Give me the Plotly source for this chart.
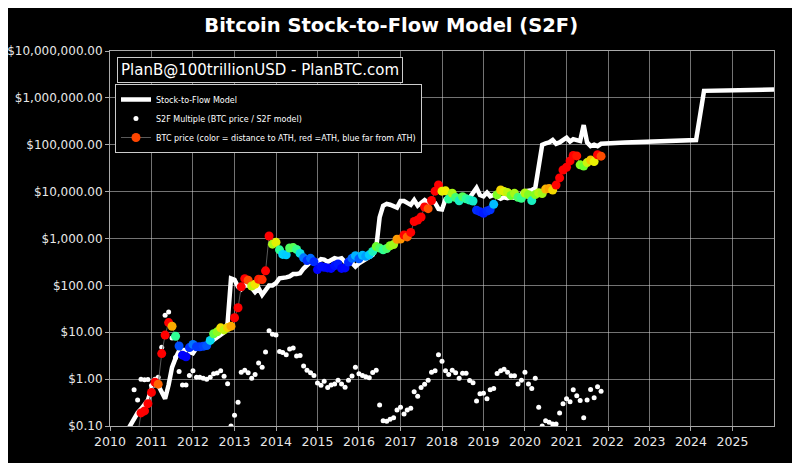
import numpy as np
import pandas as pd
import plotly.graph_objects as go

# ---------------- data ----------------
# BTC monthly price, Aug 2010 .. Nov 2021
price_2010 = [0.06, 0.062, 0.19, 0.21, 0.30]
price_2011 = [0.52, 0.86, 0.78, 3.5, 8.7, 16.1, 13.4, 8.2, 5.1, 3.25, 3.0, 4.7]
price_2012 = [5.5, 4.9, 4.9, 5.0, 5.2, 6.7, 9.3, 10.2, 12.4, 11.2, 12.6, 13.5]
price_2013 = [20.4, 33.4, 93, 139, 129, 97, 106, 135, 133, 204, 1129, 757]
price_2014 = [830, 573, 458, 448, 628, 640, 586, 481, 387, 338, 378, 320]
price_2015 = [217, 254, 244, 236, 230, 263, 285, 230, 236, 314, 377, 430]
price_2016 = [368, 437, 416, 448, 531, 673, 624, 575, 609, 701, 742, 963]
price_2017 = [970, 1190, 1080, 1348, 2300, 2480, 2875, 4703, 4338, 6468, 10233, 13860]
price_2018 = [10221, 10397, 6973, 9240, 7494, 6404, 7780, 7037, 6625, 6318, 4017, 3742]
price_2019 = [3457, 3854, 4105, 5350, 8574, 10817, 10085, 9630, 8293, 9199, 7569, 7193]
price_2020 = [9350, 8599, 6438, 8658, 9461, 9137, 11323, 11680, 10784, 13804, 19625, 29002]
price_2021 = [33114, 45137, 58918, 57750, 37332, 35040, 41626, 47166, 43790, 61318, 57000]

# S2F multiple (BTC price / S2F model), same months
mult_2010 = [0.59, 0.36, 1.0, 0.97, 0.98]
mult_2011 = [0.73, 1.0, 1.1, 4.8, 23, 27, 7.5, 2.9, 1.45, 0.75, 0.75, 1.2]
mult_2012 = [1.5, 1.1, 1.1, 1.05, 1.0, 1.1, 1.3, 1.35, 1.5, 1.15, 0.8, 0.1]
mult_2013 = [0.17, 0.32, 1.4, 1.55, 1.37, 1.05, 1.25, 2.2, 1.8, 3.8, 10.7, 9.1]
mult_2014 = [8.7, 3.9, 3.7, 3.3, 4.4, 4.6, 3.1, 3.2, 1.9, 1.55, 1.37, 1.2]
mult_2015 = [0.83, 0.74, 0.9, 0.66, 0.75, 0.79, 0.95, 0.79, 0.67, 0.95, 1.17, 1.8]
mult_2016 = [1.3, 1.2, 1.12, 1.07, 1.38, 1.55, 0.28, 0.13, 0.126, 0.14, 0.15, 0.22]
mult_2017 = [0.25, 0.18, 0.22, 0.24, 0.54, 0.43, 0.66, 0.78, 0.95, 1.4, 1.5, 3.3]
mult_2018 = [2.4, 1.5, 1.25, 1.55, 1.37, 1.05, 1.33, 1.33, 0.93, 0.84, 0.34, 0.49]
mult_2019 = [0.50, 0.38, 0.59, 0.63, 1.32, 1.5, 1.62, 1.4, 1.18, 1.18, 0.79, 0.95]
mult_2020 = [1.41, 0.79, 0.63, 1.05, 0.25, 0.10, 0.13, 0.12, 0.11, 0.11, 0.19, 0.30]
mult_2021 = [0.38, 0.33, 0.59, 0.44, 0.35, 0.15, 0.36, 0.60, 0.40, 0.69, 0.55]

# Stock-to-Flow model, monthly Jun 2010 .. Nov 2021
model_2010 = [0.079, 0.107, 0.141, 0.19, 0.23, 0.28, 0.355]
model_2011 = [0.63, 0.87, 0.74, 0.50, 0.38, 0.76, 1.78, 2.8, 4.0, 4.2, 4.2, 3.8]
model_2012 = [3.55, 4.6, 4.5, 4.8, 5.4, 6.0, 7.1, 7.6, 8.5, 10, 15.8, 141]
model_2013 = [132, 93, 83, 100, 100, 89, 72, 87, 63, 79, 100, 100]
model_2014 = [112, 141, 141, 148, 155, 174, 174, 182, 229, 275, 316, 347]
model_2015 = [316, 363, 355, 316, 355, 380, 363, 380, 316, 347, 302, 251]
model_2016 = [295, 331, 355, 398, 447, 631, 2818, 5012, 5495, 5248, 4786, 4571]
model_2017 = [6310, 6310, 5754, 5248, 6607, 5012, 5754, 6607, 5754, 6310, 5754, 4266]
model_2018 = [4169, 6918, 7413, 7586, 7244, 7079, 7244, 7079, 7413, 9550, 12023, 8511]
model_2019 = [7943, 9550, 7943, 8511, 7586, 7079, 7586, 7244, 7586, 7413, 7762, 8913]
model_2020 = [10000, 10471, 10715, 12023, 39811, 100000, 107152, 112202, 125893, 104713, 112202, 125893]
model_2021 = [141254, 117490, 131826, 125893, 120226, 263027, 112202, 93325, 100000, 93325, 104713]
# model projection beyond the data
model_future_dates = ["2022-06-01", "2023-06-01", "2024-02-15", "2024-04-25", "2025-01-01", "2026-01-01"]
model_future = [112202, 120226, 125893, 1412538, 1462177, 1513561]

years = list(range(2010, 2026))
year_labels = [str(y) for y in years]
y_tick_vals = [0.1, 1, 10, 100, 1e3, 1e4, 1e5, 1e6, 1e7]
y_tick_text = ["$0.10", "$1.00", "$10.00", "$100.00", "$1,000.00", "$10,000.00",
               "$100,000.00", "$1,000,000.00", "$10,000,000.00"]

# ---------------- assemble ----------------
btc_price = (price_2010 + price_2011 + price_2012 + price_2013 + price_2014 + price_2015 +
             price_2016 + price_2017 + price_2018 + price_2019 + price_2020 + price_2021)
s2f_mult = (mult_2010 + mult_2011 + mult_2012 + mult_2013 + mult_2014 + mult_2015 +
            mult_2016 + mult_2017 + mult_2018 + mult_2019 + mult_2020 + mult_2021)
btc_dates = pd.date_range("2010-08-01", periods=len(btc_price), freq="MS")

model_hist = (model_2010 + model_2011 + model_2012 + model_2013 + model_2014 + model_2015 +
              model_2016 + model_2017 + model_2018 + model_2019 + model_2020 + model_2021)
model_hist_dates = pd.date_range("2010-06-01", periods=len(model_hist), freq="MS")
model_dates = [d.strftime("%Y-%m-%d") for d in model_hist_dates] + model_future_dates
model_values = model_hist + model_future

prices = np.array(btc_price, dtype=float)
ath_ratio = prices / np.maximum.accumulate(prices)

ath_colorscale = [
    [0.0, "rgb(0,0,170)"],
    [0.2, "rgb(0,0,255)"],
    [0.3, "rgb(0,50,255)"],
    [0.4, "rgb(0,210,255)"],
    [0.5, "rgb(40,255,160)"],
    [0.6, "rgb(110,255,40)"],
    [0.75, "rgb(240,240,0)"],
    [0.87, "rgb(255,140,0)"],
    [1.0, "rgb(255,0,0)"],
]

fig = go.Figure()
fig.add_trace(go.Scatter(
    x=model_dates, y=model_values, mode="lines",
    line=dict(color="white", width=4.5),
    name="Stock-to-Flow Model"))
fig.add_trace(go.Scatter(
    x=btc_dates, y=s2f_mult, mode="markers",
    marker=dict(color="white", size=5),
    name="S2F Multiple (BTC price / S2F model)"))
fig.add_trace(go.Scatter(
    x=btc_dates, y=btc_price, mode="lines+markers",
    line=dict(color="#5a5a5a", width=1),
    marker=dict(size=9, color=ath_ratio, colorscale=ath_colorscale, cmin=0, cmax=1),
    showlegend=False, name="BTC price"))
fig.add_trace(go.Scatter(
    x=[None], y=[None], mode="lines+markers",
    line=dict(color="#5a5a5a", width=1),
    marker=dict(size=9, color="rgb(255,69,0)"),
    name="BTC price (color = distance to ATH, red =ATH, blue far from ATH)"))

grid_col = "rgba(210,210,210,0.55)"
axis_col = "#aaaaaa"

fig.add_annotation(
    text="PlanB@100trillionUSD - PlanBTC.com", xref="paper", yref="paper",
    x=0.0105, y=0.984, xanchor="left", yanchor="top", showarrow=False,
    font=dict(size=15, color="white", family="DejaVu Sans"),
    bordercolor="#cccccc", borderwidth=1, borderpad=3, bgcolor="black")

# the page body adds an 8px offset; margins compensate so the plot area lands where the reference has it
fig.update_layout(
    width=800, height=463,
    paper_bgcolor="black", plot_bgcolor="black",
    margin=dict(l=102, r=34, t=43, b=44.5, autoexpand=False),
    font=dict(family="DejaVu Sans", color="#e8e8e8", size=12),
    title=dict(text="<b>Bitcoin Stock-to-Flow Model (S2F)</b>", x=0.479, xanchor="center",
               y=1 - 17 / 463, yanchor="middle",
               font=dict(family="DejaVu Sans", size=19.5, color="white")),
    showlegend=True,
    legend=dict(x=0.0075, y=0.912, xanchor="left", yanchor="top",
                bgcolor="black", bordercolor="#cccccc", borderwidth=1,
                font=dict(size=8, color="white", family="DejaVu Sans"),
                itemwidth=30, tracegroupgap=0),
    xaxis=dict(type="date", range=["2010-01-01", "2026-01-01"], automargin=False,
               tickvals=[f"{y}-01-01" for y in years], ticktext=year_labels,
               showgrid=True, gridcolor=grid_col, gridwidth=1,
               showline=True, linecolor=axis_col, linewidth=1, mirror=True,
               ticks="outside", ticklen=4, tickcolor=axis_col, zeroline=False,
               tickfont=dict(size=12.5, color="#e8e8e8")),
    yaxis=dict(type="log", range=[-1, 7], automargin=False,
               tickvals=y_tick_vals, ticktext=y_tick_text,
               showgrid=True, gridcolor=grid_col, gridwidth=1,
               showline=True, linecolor=axis_col, linewidth=1, mirror=True,
               ticks="outside", ticklen=4, tickcolor=axis_col, zeroline=False,
               tickfont=dict(size=12, color="#e8e8e8")),
)

fig.write_html("out.html")
